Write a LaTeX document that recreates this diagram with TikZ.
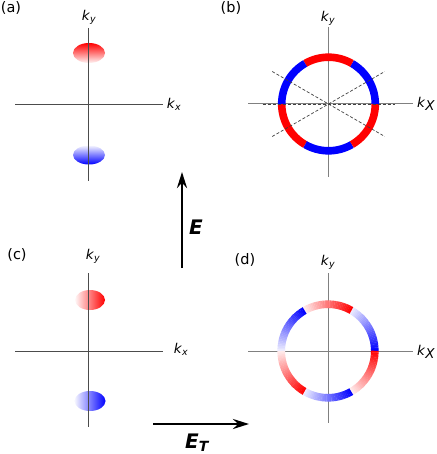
\documentclass[tikz,border=0pt]{standalone}
\usepackage{fontspec}
\setmainfont{DejaVu Sans}
\usetikzlibrary{arrows.meta}
\newcommand\klab[1]{\textit{k}\textsubscript{\textit{#1}}}
\newcommand\kXlab{\textit{k}\raisebox{-2.5pt}{\textit{X}}}
\begin{document}
\begin{tikzpicture}[x=1pt,y=1pt,
  axis/.style={draw=black!70, line width=0.9pt},
  axisb/.style={draw=black!50, line width=1pt},
  dsh/.style={draw=black!75, line width=0.7pt, dash pattern=on 3pt off 2pt},
  ring/.style={line width=7.6pt},
  plab/.style={font=\fontsize{14.5}{16}\selectfont, inner sep=0pt},
  klabel/.style={font=\fontsize{13.5}{15}\selectfont, inner sep=0pt},
  field/.style={line width=2.5pt, -{Stealth[length=16pt,width=10pt]}},
  flab/.style={font=\fontsize{20}{22}\selectfont\bfseries\itshape, inner sep=0pt}]
\useasboundingbox (0,0) rectangle (436,-454);

% ---------- (a) ----------
\shade[top color=red, bottom color=red!4] (89,-53) ellipse [x radius=16, y radius=10];
\shade[top color=blue!4, bottom color=blue] (89,-155) ellipse [x radius=16, y radius=9.5];
\draw[axis] (15,-104) -- (163,-104);
\draw[axis] (88,-28) -- (88,-181);
\node[plab] (la) at (11,-8) {(a)};
\node[klabel] (aky) at (89,-17) {\klab{y}};
\node[klabel] (akx) at (174,-104) {\klab{x}};

% ---------- (b) ----------
\coordinate (bc) at (328.5,-104);
\draw[axisb] (248,-104) -- (413,-104);
\draw[axisb] (328.5,-27) -- (328.5,-177);
\foreach \s/\c in {0/blue,60/red,120/blue,180/red,240/blue,300/red}{
  \draw[ring, \c, shift={(bc)}] (\s:46.8) arc[start angle=\s, end angle=\s+60, radius=46.8];
}
\draw[dsh, shift={(bc)}] (180:66) -- (0:66);
\draw[dsh, shift={(bc)}] (150:65) -- (-30:65);
\draw[dsh, shift={(bc)}] (210:65) -- (30:65);
\node[plab] (lb) at (231,-8) {(b)};
\node[klabel] (bky) at (328,-18) {\klab{y}};
\node[klabel] (bkx) at (426,-104) {\kXlab};

% ---------- (c) ----------
\shade[left color=red!3, right color=red] (90,-300) ellipse [x radius=15, y radius=10];
\shade[left color=blue!3, right color=blue] (90,-401) ellipse [x radius=15.5, y radius=10];
\draw[axis] (15,-351) -- (163,-351);
\draw[axis] (88,-273) -- (88,-427);
\node[plab] (lc) at (17,-255) {(c)};
\node[klabel] (cky) at (93,-256) {\klab{y}};
\node[klabel] (ckx) at (181,-349) {\klab{x}};

% ---------- (d) ----------
\coordinate (dc) at (328,-351);
\draw[axisb] (248,-351) -- (413,-351);
\draw[axisb] (328,-273) -- (328,-423);
\foreach \s/\c/\d in {0/blue/1,60/red/1,120/blue/1,180/red/0,240/blue/0,300/red/0}{
  \foreach \i in {0,...,29}{
    \pgfmathsetmacro\aa{\s+2*\i}
    \pgfmathtruncatemacro\pp{\d==1 ? 100-\i*92/29 : 8+\i*92/29}
    \draw[ring, color=\c!\pp!white, shift={(dc)}] (\aa:46.8) arc[start angle=\aa, end angle=\aa+2.3, radius=46.8];
  }
}
\node[plab] (ld) at (245,-260) {(d)};
\node[klabel] (dky) at (328,-262) {\klab{y}};
\node[klabel] (dkx) at (426,-352) {\kXlab};

% ---------- fields ----------
\coordinate (E0) at (182,-268);
\coordinate (E1) at (182,-172);
\draw[field] (E0) -- (E1);
\node[flab, anchor=base] (El) at (196,-234) {E};
\coordinate (T0) at (153,-424);
\coordinate (T1) at (249,-424);
\draw[field] (T0) -- (T1);
\node[flab, anchor=base west] (Tl) at (185,-448) {E\textsubscript{T}};
\end{tikzpicture}
\end{document}
